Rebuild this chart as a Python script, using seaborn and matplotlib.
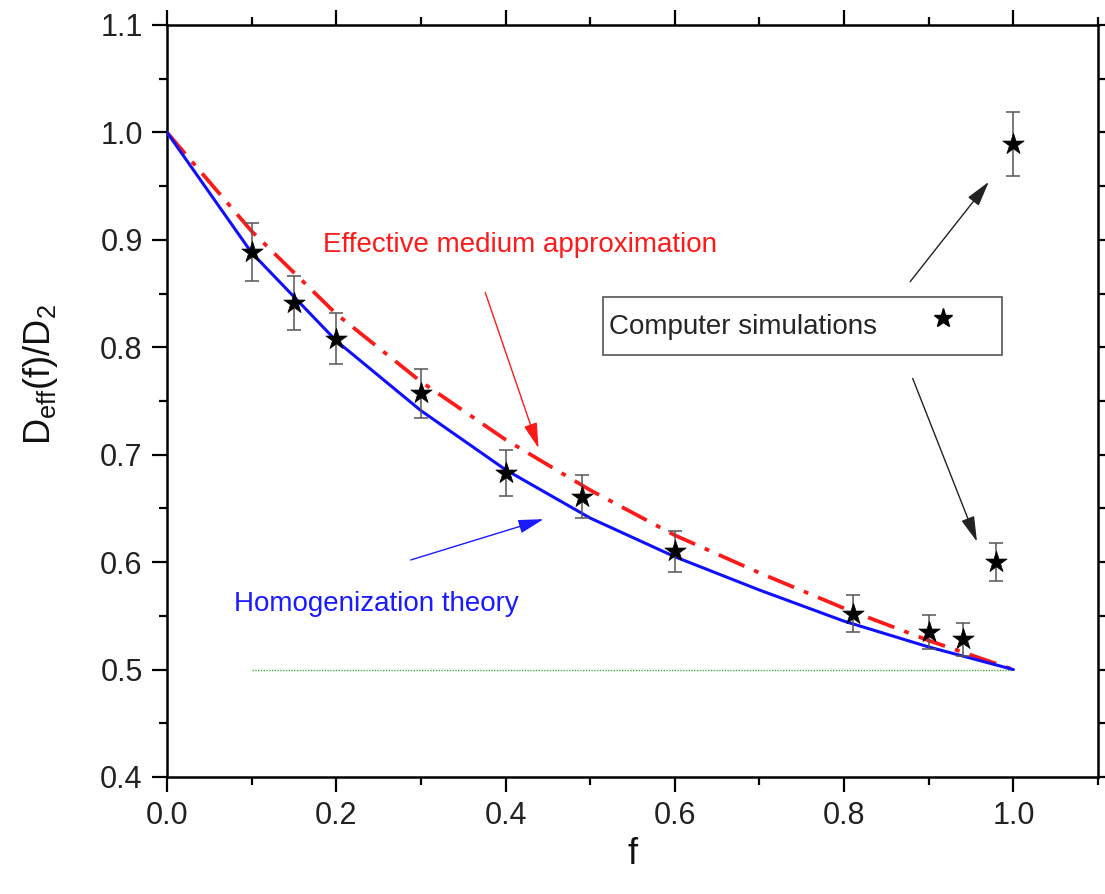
import numpy as np
import pandas as pd
import matplotlib
matplotlib.use("Agg")
import matplotlib.pyplot as plt
from matplotlib.ticker import MultipleLocator
from matplotlib.lines import Line2D
import seaborn as sns

# ---- data ----
f_curve = [0.0, 0.1, 0.2, 0.3, 0.4, 0.5, 0.6, 0.7, 0.8, 0.9, 1.0]
homog = [1.0, 0.888, 0.806, 0.741, 0.686, 0.641, 0.605, 0.574, 0.545, 0.521, 0.5]
ema = [1.0, 0.908, 0.831, 0.768, 0.714, 0.667, 0.625, 0.590, 0.557, 0.527, 0.5]

f_sim = [0.10, 0.15, 0.20, 0.30, 0.40, 0.49, 0.60, 0.81, 0.90, 0.94, 0.98, 1.00]
d_sim = [0.889, 0.841, 0.808, 0.757, 0.683, 0.661, 0.610, 0.552, 0.535, 0.528, 0.600, 0.989]
err_sim = [0.027, 0.025, 0.024, 0.023, 0.021, 0.020, 0.019, 0.017, 0.016, 0.015, 0.018, 0.030]

ref_f = [0.1, 1.0]
ref_d = [0.5, 0.5]

sns.set_theme(style="ticks")
plt.rcParams["font.family"] = ["Liberation Sans", "DejaVu Sans"]
plt.rcParams["mathtext.default"] = "regular"

fig = plt.figure(figsize=(11.05, 8.94), dpi=100)
ax = fig.add_axes([0.1511, 0.1309, 0.8426, 0.8412])

df = pd.DataFrame({"f": f_curve, "homog": homog, "ema": ema})
sns.lineplot(data=df, x="f", y="ema", ax=ax, color="#ff1a1a", lw=2.7,
             linestyle=(0, (7.5, 2.8, 1.3, 2.8)), zorder=3)
sns.lineplot(data=df, x="f", y="homog", ax=ax, color="#1010ff", lw=2.2, zorder=4)
sns.lineplot(x=ref_f, y=ref_d, ax=ax, color="#44b044", lw=1.0, linestyle=(0, (1, 1)), zorder=2)

ax.errorbar(f_sim, d_sim, yerr=err_sim, fmt="none", ecolor="#555555",
            elinewidth=1.1, capsize=5, capthick=1.1, zorder=5)
sns.scatterplot(x=f_sim, y=d_sim, ax=ax, marker="*", s=260, color="black",
                edgecolor="black", linewidth=0.5, zorder=6)

ax.set_xlim(0, 1.1)
ax.set_ylim(0.4, 1.1)
ax.xaxis.set_major_locator(MultipleLocator(0.2))
ax.xaxis.set_minor_locator(MultipleLocator(0.1))
ax.yaxis.set_major_locator(MultipleLocator(0.1))
ax.yaxis.set_minor_locator(MultipleLocator(0.05))
ax.xaxis.set_major_formatter(plt.FuncFormatter(lambda v, p: f"{v:.1f}"))
ax.yaxis.set_major_formatter(plt.FuncFormatter(lambda v, p: f"{v:.1f}"))

for s in ax.spines.values():
    s.set_visible(True)
    s.set_linewidth(1.8)
    s.set_color("black")
ax.tick_params(which="both", direction="out", top=True, right=True,
               labeltop=False, labelright=False, width=1.6, color="black")
ax.tick_params(which="major", length=10.5, labelsize=22, pad=7, labelcolor="#222222")
ax.tick_params(which="minor", length=6)

ax.set_xlabel("f", fontsize=26, labelpad=4, color="#111111")
ax.set_ylabel(r"$D_{eff}(f)/D_2$", fontsize=26, color="#111111")
ax.yaxis.set_label_coords(-0.115, 0.535)

# annotations
ax.text(0.184, 0.895, "Effective medium approximation", color="#ff1a1a",
        fontsize=20, va="center", ha="left")
ax.text(0.079, 0.561, "Homogenization theory", color="#1a1aff",
        fontsize=20, va="center", ha="left")

astyle = "-|>,head_length=1.3,head_width=0.35"
ax.annotate("", xy=(0.439, 0.706), xytext=(0.376, 0.851),
            arrowprops=dict(arrowstyle=astyle, color="#ff1a1a", lw=1.0, shrinkA=0, shrinkB=0))
ax.annotate("", xy=(0.445, 0.640), xytext=(0.288, 0.602),
            arrowprops=dict(arrowstyle=astyle, color="#1a1aff", lw=1.0, shrinkA=0, shrinkB=0))
ax.annotate("", xy=(0.971, 0.954), xytext=(0.878, 0.861),
            arrowprops=dict(arrowstyle=astyle, color="#222222", lw=1.0, shrinkA=0, shrinkB=0))
ax.annotate("", xy=(0.957, 0.619), xytext=(0.881, 0.771),
            arrowprops=dict(arrowstyle=astyle, color="#222222", lw=1.0, shrinkA=0, shrinkB=0))

handle = Line2D([], [], marker="*", linestyle="none", color="black", markersize=14)
leg = ax.legend([handle], ["Computer simulations"], loc="upper left",
                bbox_to_anchor=(0.4683, 0.6383), bbox_transform=ax.transAxes,
                borderaxespad=0, markerfirst=False, fancybox=False,
                edgecolor="#555555", framealpha=1, fontsize=20,
                handlelength=3.85, handleheight=2.2, handletextpad=0.45, borderpad=0.2)
leg.get_frame().set_linewidth(1.2)

fig.savefig("out.png", dpi=100)
